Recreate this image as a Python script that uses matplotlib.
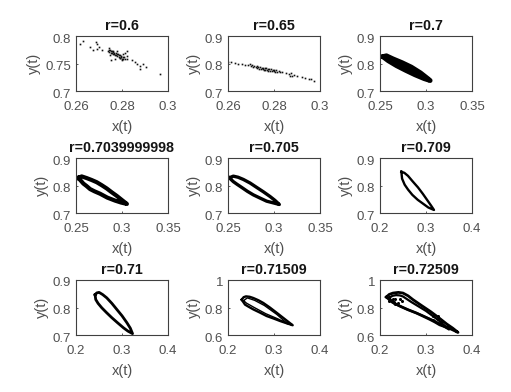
import matplotlib
matplotlib.use('Agg')
import matplotlib.pyplot as plt
from matplotlib.transforms import ScaledTranslation

plt.rcParams['font.family'] = ['Liberation Sans', 'DejaVu Sans']

W = 511
H = 392

titles = ['r=0.6', 'r=0.65', 'r=0.7', 'r=0.7039999998', 'r=0.705', 'r=0.709',
          'r=0.71', 'r=0.71509', 'r=0.72509']

xticks = [[0.26, 0.28, 0.3], [0.26, 0.28, 0.3], [0.25, 0.3, 0.35],
          [0.25, 0.3, 0.35], [0.25, 0.3, 0.35], [0.2, 0.3, 0.4],
          [0.2, 0.3, 0.4], [0.2, 0.3, 0.4], [0.2, 0.3, 0.4]]
yticks = [[0.7, 0.75, 0.8], [0.7, 0.8, 0.9], [0.7, 0.8, 0.9],
          [0.7, 0.8, 0.9], [0.7, 0.8, 0.9], [0.7, 0.8, 0.9],
          [0.7, 0.8, 0.9], [0.6, 0.8, 1], [0.6, 0.8, 1]]

# scattered points, r=0.6
x1 = [0.2629, 0.2619, 0.2663, 0.2686, 0.2690, 0.2702, 0.2690, 0.2676, 0.2712, 0.2738,
      0.2742, 0.2745, 0.2748, 0.2750, 0.2752, 0.2755, 0.2757, 0.2760, 0.2762, 0.2765,
      0.2767, 0.2770, 0.2772, 0.2775, 0.2777, 0.2780, 0.2782, 0.2785, 0.2787, 0.2790,
      0.2792, 0.2795, 0.2797, 0.2800, 0.2803, 0.2806, 0.2810, 0.2815, 0.2820, 0.2748,
      0.2760, 0.2778, 0.2790, 0.2805, 0.2822, 0.2752, 0.2770, 0.2800, 0.2842, 0.2855,
      0.2866, 0.2878, 0.2880, 0.2892, 0.2905, 0.2965, 0.2822, 0.2815, 0.2742]
y1 = [0.7915, 0.7855, 0.7806, 0.7897, 0.7855, 0.7806, 0.7758, 0.7745, 0.7745, 0.7730,
      0.7750, 0.7710, 0.7745, 0.7690, 0.7730, 0.7700, 0.7725, 0.7680, 0.7710, 0.7665,
      0.7700, 0.7655, 0.7690, 0.7650, 0.7680, 0.7640, 0.7670, 0.7625, 0.7655, 0.7605,
      0.7650, 0.7615, 0.7640, 0.7590, 0.7625, 0.7580, 0.7610, 0.7590, 0.7640, 0.7660,
      0.7725, 0.7720, 0.7600, 0.7680, 0.7590, 0.7570, 0.7590, 0.7570, 0.7560, 0.7530,
      0.7490, 0.7400, 0.7450, 0.7490, 0.7430, 0.7310, 0.7720, 0.7690, 0.7790]

# scattered points, r=0.65
x2 = [0.2598, 0.2615, 0.2630, 0.2645, 0.2660, 0.2672, 0.2685, 0.2695, 0.2700, 0.2705,
      0.2710, 0.2715, 0.2720, 0.2725, 0.2728, 0.2732, 0.2736, 0.2740, 0.2743, 0.2746,
      0.2750, 0.2753, 0.2756, 0.2760, 0.2763, 0.2766, 0.2770, 0.2773, 0.2776, 0.2780,
      0.2783, 0.2786, 0.2790, 0.2794, 0.2798, 0.2802, 0.2806, 0.2810, 0.2815, 0.2820,
      0.2825, 0.2835, 0.2850, 0.2865, 0.2870, 0.2873, 0.2878, 0.2885, 0.2900, 0.2920,
      0.2935, 0.2950, 0.2960, 0.2975]
y2 = [0.806, 0.804, 0.802, 0.800, 0.798, 0.796, 0.795, 0.797, 0.790, 0.795,
      0.788, 0.792, 0.786, 0.790, 0.783, 0.788, 0.781, 0.787, 0.779, 0.785,
      0.780, 0.784, 0.777, 0.783, 0.776, 0.782, 0.775, 0.781, 0.774, 0.780,
      0.773, 0.779, 0.772, 0.778, 0.771, 0.777, 0.770, 0.775, 0.769, 0.773,
      0.768, 0.770, 0.766, 0.762, 0.756, 0.764, 0.753, 0.758, 0.754, 0.752,
      0.747, 0.745, 0.742, 0.737]

# blob, r=0.7
x3 = [0.2530, 0.2570, 0.2640, 0.2740, 0.2840, 0.2940, 0.3020, 0.3045,
      0.2980, 0.2880, 0.2780, 0.2680, 0.2590, 0.2530]
y3 = [0.825, 0.828, 0.817, 0.803, 0.787, 0.766, 0.745, 0.738,
      0.745, 0.759, 0.775, 0.792, 0.810, 0.825]

# loops
x4 = [0.2525, 0.2562, 0.2616, 0.2670, 0.2725, 0.2780, 0.2835, 0.2890, 0.2944, 0.3000, 0.3053,
      0.2990, 0.2925, 0.2840, 0.2762, 0.2700, 0.2653, 0.2615, 0.2580, 0.2525]
y4 = [0.828, 0.833, 0.827, 0.820, 0.812, 0.801, 0.789, 0.775, 0.762, 0.747, 0.733,
      0.738, 0.745, 0.756, 0.770, 0.779, 0.787, 0.798, 0.807, 0.828]

x5 = [0.2514, 0.2558, 0.2610, 0.2667, 0.2740, 0.2812, 0.2885, 0.2957, 0.3010, 0.3058,
      0.2990, 0.2920, 0.2850, 0.2775, 0.2710, 0.2649, 0.2600, 0.2558, 0.2514]
y5 = [0.828, 0.834, 0.830, 0.822, 0.809, 0.793, 0.777, 0.760, 0.746, 0.731,
      0.737, 0.743, 0.754, 0.766, 0.779, 0.793, 0.804, 0.814, 0.828]

x6 = [0.2464, 0.2530, 0.2609, 0.2710, 0.2826, 0.2930, 0.3022, 0.3110, 0.3174,
      0.3050, 0.2935, 0.2820, 0.2703, 0.2610, 0.2536, 0.2480, 0.2464]
y6 = [0.850, 0.846, 0.835, 0.815, 0.793, 0.770, 0.748, 0.727, 0.711,
      0.720, 0.734, 0.748, 0.766, 0.785, 0.803, 0.825, 0.850]

x7 = [0.2415, 0.2450, 0.2502, 0.2580, 0.2669, 0.2780, 0.2887, 0.3000, 0.3105, 0.3180, 0.3229,
      0.3130, 0.3033, 0.2900, 0.2778, 0.2660, 0.2560, 0.2480, 0.2429, 0.2415]
y7 = [0.846, 0.853, 0.855, 0.847, 0.835, 0.815, 0.793, 0.770, 0.745, 0.725, 0.705,
      0.714, 0.726, 0.745, 0.763, 0.782, 0.799, 0.815, 0.829, 0.846]

x8 = [0.2297, 0.2340, 0.2391, 0.2470, 0.2551, 0.2660, 0.2768, 0.2910, 0.3058, 0.3230, 0.3406,
      0.3270, 0.3130, 0.2990, 0.2840, 0.2700, 0.2551, 0.2450, 0.2370, 0.2297]
y8 = [0.857, 0.875, 0.881, 0.878, 0.869, 0.853, 0.833, 0.800, 0.762, 0.717, 0.671,
      0.686, 0.702, 0.720, 0.738, 0.762, 0.786, 0.805, 0.821, 0.857]
x8b = [0.2340, 0.2420, 0.2580, 0.2790, 0.3060, 0.3300, 0.3100, 0.2820, 0.2570, 0.2400, 0.2340]
y8b = [0.850, 0.870, 0.852, 0.815, 0.750, 0.680, 0.715, 0.755, 0.800, 0.832, 0.850]

x9 = [0.2138, 0.2200, 0.2283, 0.2400, 0.2500, 0.2610, 0.2717, 0.2900, 0.3100, 0.3280, 0.3450, 0.3580, 0.3696,
      0.3500, 0.3297, 0.3190, 0.3080, 0.2930, 0.2790, 0.2600, 0.2420, 0.2260, 0.2138]
y9 = [0.876, 0.895, 0.905, 0.910, 0.905, 0.885, 0.857, 0.815, 0.770, 0.725, 0.680, 0.650, 0.619,
      0.650, 0.674, 0.695, 0.714, 0.738, 0.760, 0.785, 0.812, 0.840, 0.876]
x9b = [0.2200, 0.2270, 0.2350, 0.2430, 0.2500, 0.2680, 0.3000, 0.3300, 0.3500, 0.3200, 0.2900, 0.2600, 0.2300, 0.2200]
y9b = [0.870, 0.885, 0.890, 0.888, 0.880, 0.840, 0.775, 0.700, 0.640, 0.700, 0.745, 0.785, 0.830, 0.870]
x9c = [0.2250, 0.2330, 0.2400, 0.2480, 0.2330, 0.3150, 0.3250, 0.3350, 0.3150, 0.3250, 0.2280, 0.2440, 0.2200, 0.2300]
y9c = [0.850, 0.860, 0.835, 0.850, 0.825, 0.740, 0.715, 0.705, 0.710, 0.735, 0.865, 0.865, 0.850, 0.840]

series = [(x1, y1), (x2, y2), (x3, y3), (x4, y4), (x5, y5), (x6, y6), (x7, y7), (x8, y8), (x9, y9)]
line_w = [0, 0, 3.5, 3.0, 2.4, 1.7, 2.0, 1.7, 2.0]

lefts = [76, 228, 380]
tops = [36, 158, 280]
ax_w = 92
ax_h = 55

fig = plt.figure(figsize=(W / 100, H / 100), dpi=100)

for i in range(9):
    col = i % 3
    row = i // 3
    ax = fig.add_axes([lefts[col] / W, 1 - (tops[row] + ax_h) / H, ax_w / W, ax_h / H])
    xs, ys = series[i]
    if i < 2:
        ax.plot(xs, ys, ls='none', marker='s', ms=1.2, color='#111111', mew=0)
    elif i == 2:
        ax.plot(xs, ys, color='black', lw=line_w[i], solid_capstyle='round')
        ax.fill(xs, ys, color='black')
    else:
        ax.plot(xs, ys, color='black', lw=line_w[i], solid_joinstyle='round')
    if i == 7:
        ax.plot(x8b, y8b, color='black', lw=1.0)
    if i == 8:
        ax.plot(x9b, y9b, color='black', lw=1.6)
        ax.plot(x9c, y9c, ls='none', marker='o', ms=2.2, color='black', mew=0)

    ax.set_xlim(xticks[i][0], xticks[i][-1])
    ax.set_ylim(yticks[i][0], yticks[i][-1])
    ax.set_xticks(xticks[i])
    ax.set_yticks(yticks[i])
    ax.set_xticklabels(['%g' % v for v in xticks[i]])
    ax.set_yticklabels(['%g' % v for v in yticks[i]])
    ax.tick_params(axis='x', direction='in', length=1.5, width=0.6, color='#404040',
                   labelsize=9.5, labelcolor='#505050', pad=7.5)
    ax.tick_params(axis='y', direction='in', length=1.5, width=0.6, color='#404040',
                   labelsize=9.5, labelcolor='#505050', pad=3.5)
    ax.xaxis.set_ticks_position('bottom')
    ax.yaxis.set_ticks_position('left')
    shift = ScaledTranslation(0, -2 / 100, fig.dpi_scale_trans)
    for lab in ax.get_yticklabels():
        lab.set_transform(lab.get_transform() + shift)
    for s in ax.spines.values():
        s.set_color('#404040')
        s.set_linewidth(0.8)
    ax.set_title(titles[i], fontsize=10.3, fontweight='bold', color='#151515', pad=4)
    ax.set_xlabel('x(t)', fontsize=10.5, color='#505050')
    ax.set_ylabel('y(t)', fontsize=10.5, color='#505050')
    ax.xaxis.set_label_coords(0.5, -29 / ax_h, transform=ax.transAxes)
    ax.yaxis.set_label_coords((-35 if i == 0 else -27) / ax_w, 0.5, transform=ax.transAxes)

fig.savefig('out.png', dpi=100)
